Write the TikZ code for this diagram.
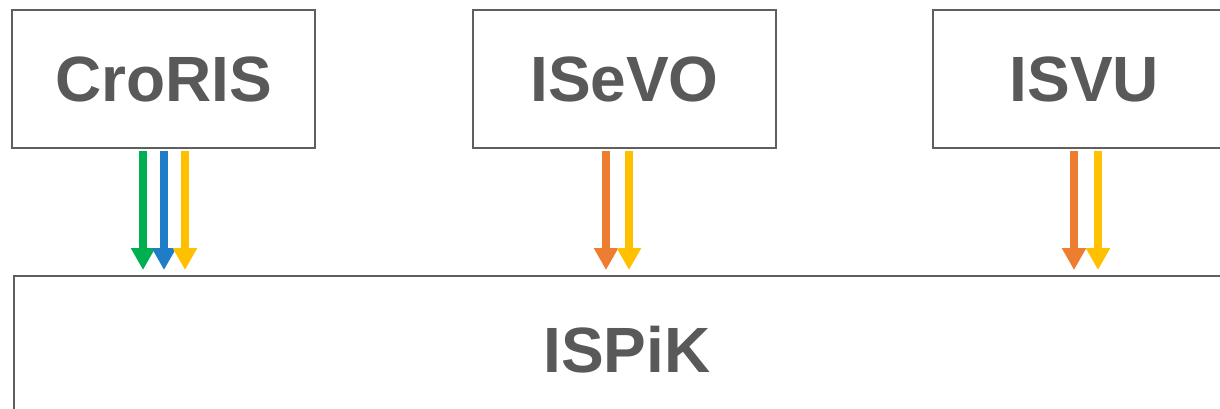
\documentclass[tikz,border=0pt]{standalone}
\usepackage{fontspec}
\setmainfont{Liberation Sans}
\usetikzlibrary{arrows.meta}
\definecolor{boxgray}{RGB}{95,95,95}
\definecolor{textgray}{RGB}{89,89,89}
\definecolor{fgreen}{RGB}{0,176,80}
\definecolor{fblue}{RGB}{31,124,198}
\definecolor{fyellow}{RGB}{255,192,0}
\definecolor{forange}{RGB}{237,125,49}
\begin{document}
\begin{tikzpicture}[x=1pt, y=-1pt,
    box/.style={draw=boxgray, line width=2pt, text=textgray, inner sep=0pt,
        font=\fontsize{64}{70}\selectfont\bfseries},
    flow/.style={line width=7.5pt, -{Triangle[width=23pt,length=22pt]},
        shorten <=2pt, shorten >=5pt}]
    % Frame
    \useasboundingbox (0,0) rectangle (1220,409);
    \clip (0,0) rectangle (1220,409);

    % Source systems
    \node [box, minimum width=303pt, minimum height=138pt] (croris) at (163.5,79) {CroRIS};
    \node [box, minimum width=303pt, minimum height=138pt] (isevo) at (624.5,79) {ISeVO};
    \node [box, minimum width=303pt, minimum height=138pt] (isvu) at (1084.5,79) {ISVU};

    % Target system
    \node [box, minimum width=1226pt, minimum height=148pt] (ispik) at (627,350) {ISPiK};

    % Data flows
    \draw [flow, fgreen] (croris.south -| 143,0) -- (ispik.north -| 143,0);
    \draw [flow, fblue] (croris.south -| 164,0) -- (ispik.north -| 164,0);
    \draw [flow, fyellow] (croris.south -| 185,0) -- (ispik.north -| 185,0);
    \draw [flow, forange] (isevo.south -| 606,0) -- (ispik.north -| 606,0);
    \draw [flow, fyellow] (isevo.south -| 629,0) -- (ispik.north -| 629,0);
    \draw [flow, forange] (isvu.south -| 1074,0) -- (ispik.north -| 1074,0);
    \draw [flow, fyellow] (isvu.south -| 1098,0) -- (ispik.north -| 1098,0);
\end{tikzpicture}
\end{document}
